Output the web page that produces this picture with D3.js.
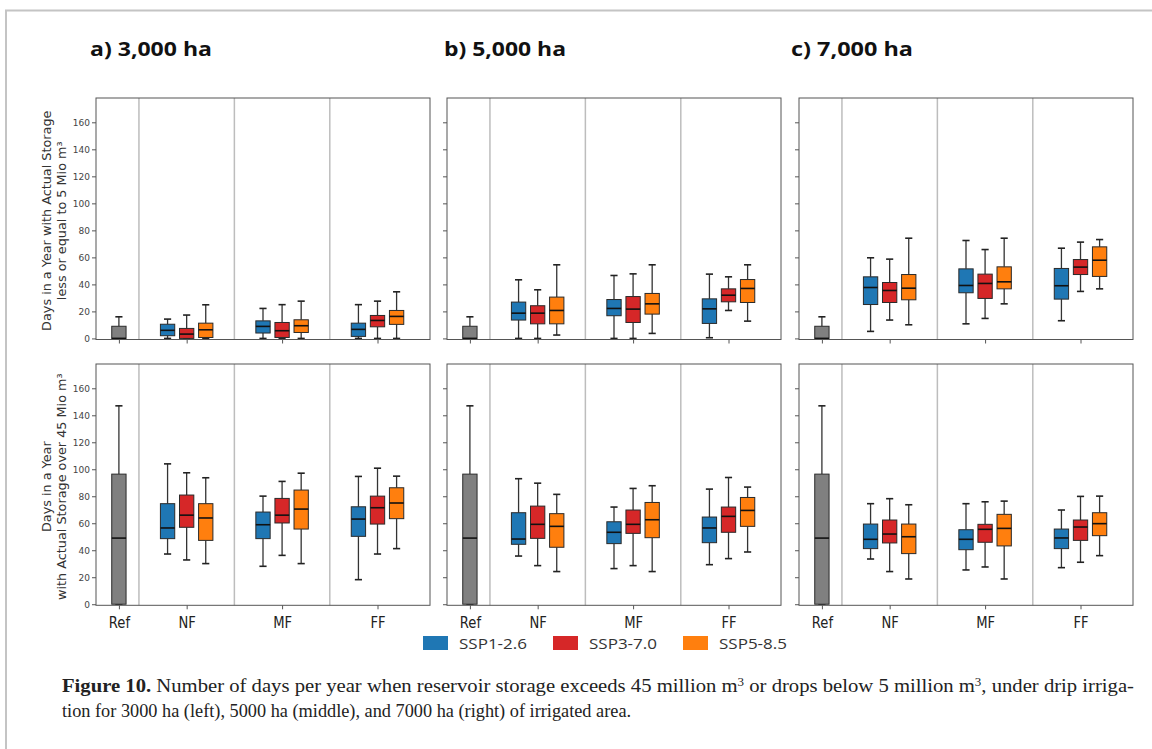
<!DOCTYPE html>
<html>
<head>
<meta charset="utf-8">
<script src="https://cdn.jsdelivr.net/npm/d3@7"></script>
<style>
  html, body { margin: 0; padding: 0; background: #fff; }
  svg { display: block; }
</style>
</head>
<body>
<svg id="chart" width="1152" height="749"></svg>
<script>
// ---------------- DATA ----------------
const categories = ["Ref", "NF", "MF", "FF"];
const scenarios = ["SSP1-2.6", "SSP3-7.0", "SSP5-8.5"];
const areaTitles = ["a) 3,000 ha", "b) 5,000 ha", "c) 7,000 ha"];
const yTicks = [0, 20, 40, 60, 80, 100, 120, 140, 160];
const rowLabels = [
  ["Days in a Year with Actual Storage", "less or equal to 5 Mio m\u00b3"],
  ["Days in a Year", "with Actual Storage over 45 Mio m\u00b3"]
];
// box stats: [whiskerLow, q1, median, q3, whiskerHigh]
const refBelow5 = [0, 0, 0, 9, 16];
const refOver45 = [0, 0, 49, 96.4, 147];

// rows: NF, MF, FF ; each: SSP1-2.6, SSP3-7.0, SSP5-8.5
const below5_3000 = [
  [[0, 2, 6, 10.5, 14.3], [0, 0, 3.2, 7.4, 17.3], [0, 0.7, 6.4, 11.3, 24.9]],
  [[0, 4, 8.9, 13, 22.2], [0, 0.7, 5.7, 11.8, 25], [0, 4.4, 9.4, 13.8, 27.6]],
  [[0, 1.5, 6.7, 11.3, 25], [0, 8.6, 13.3, 17, 27.6], [0, 10.4, 16.3, 20.7, 34.5]]
];
const below5_5000 = [
  [[0, 13.6, 18.7, 26.9, 43.4], [0, 10.8, 18.7, 24.2, 36], [2.5, 10.8, 20.7, 30.6, 54.5]],
  [[0, 16.8, 22.2, 28.8, 46.6], [0, 11.8, 21.7, 31, 47.8], [3.7, 18, 25.6, 33.3, 54.5]],
  [[0.5, 11.1, 21.9, 29.3, 47.6], [20.7, 27.1, 32, 36.7, 45.6], [12.8, 26.6, 37, 43.6, 54.5]]
];
const below5_7000 = [
  [[5.2, 25.1, 37.7, 45.6, 59.7], [13.6, 26.6, 35.5, 41.4, 58.7], [10.1, 28.6, 37.2, 47.3, 74.2]],
  [[10.8, 33.8, 39.2, 51.5, 72.5], [14.8, 29.6, 40.7, 47.6, 65.8], [25.6, 36.7, 41.9, 53, 74.2]],
  [[13.1, 29.1, 39, 51.8, 66.8], [34.8, 47.3, 52.8, 58.4, 71.3], [36.7, 45.9, 57.9, 67.8, 73.2]]
];
const over45_3000 = [
  [[37.2, 48.6, 56.5, 74.5, 104], [32.8, 57, 66, 80.9, 97.4], [30.1, 47.3, 63.9, 74.5, 93.7]],
  [[28.1, 48.6, 58.9, 68.3, 80.1], [36.2, 60.2, 66, 78.4, 91], [30.1, 55.7, 70.5, 84.6, 97.1]],
  [[18.2, 50.3, 63.1, 72.2, 94.7], [37.2, 59.4, 71.5, 80.1, 100.8], [41.2, 63.4, 75, 86.3, 94.9]]
];
const over45_5000 = [
  [[35.7, 44.4, 48.3, 67.8, 93], [28.6, 48.8, 59.2, 72.7, 89.7], [24.2, 42.2, 57.7, 67.1, 81.4]],
  [[26.4, 44.9, 53.3, 61.1, 72], [28.6, 52.5, 59.2, 69.8, 85.8], [24.2, 49.3, 62.6, 75.4, 87.8]],
  [[29.3, 45.6, 56.5, 64.6, 85.3], [33.8, 53.3, 65.1, 72, 93.9], [38.7, 57.7, 69.5, 79.1, 86.8]]
];
const over45_7000 = [
  [[33.5, 41.2, 48.1, 59.4, 74.5], [24.2, 45.4, 52, 62.4, 78.2], [18.7, 37.5, 50, 59.4, 73.7]],
  [[25.4, 40.4, 48.1, 55.2, 74.5], [27.6, 45.9, 55.5, 59.2, 75.9], [18.7, 43.2, 56.2, 66.6, 76.4]],
  [[27.1, 41.2, 49.1, 55.7, 69.8], [31.1, 47.3, 57.2, 62.4, 79.9], [36, 50.8, 59.7, 67.8, 80.1]]
];

// ---------------- LAYOUT / STYLE ----------------
const colors = { "SSP1-2.6": "#1f77b4", "SSP3-7.0": "#d62728", "SSP5-8.5": "#ff7f0e", "Ref": "#808080" };
const panelLefts = [96, 447, 799];
const panelW = 334;
const rows = [{ top: 98, bottom: 339.5 }, { top: 364, bottom: 605.3 }];
// category positions (axis units; domain 0..3.5)
const catPos = { Ref: 0.24, NF: 0.95, MF: 1.95, FF: 2.95 };
const dividers = [0.45, 1.45, 2.45];
const offsets = [-0.2, 0, 0.2];
const boxW = 0.15;

const svg = d3.select("#chart");

// outer frame
svg.append("line").attr("x1", 5).attr("x2", 1152).attr("y1", 10.5).attr("y2", 10.5)
  .attr("stroke", "#c4c4c4").attr("stroke-width", 2);
svg.append("line").attr("x1", 6).attr("x2", 6).attr("y1", 10).attr("y2", 749)
  .attr("stroke", "#c4c4c4").attr("stroke-width", 2);

const dataGrid = [
  [below5_3000, below5_5000, below5_7000],
  [over45_3000, over45_5000, over45_7000]
];
const refData = [refBelow5, refOver45];

function drawBox(g, x, y, stats, color, halfW, capHalf) {
  const [lo, q1, med, q3, hi] = stats;
  g.append("line").attr("x1", x).attr("x2", x).attr("y1", y(q3)).attr("y2", y(hi))
    .attr("stroke", "#333").attr("stroke-width", 1.3);
  g.append("line").attr("x1", x).attr("x2", x).attr("y1", y(q1)).attr("y2", y(lo))
    .attr("stroke", "#333").attr("stroke-width", 1.3);
  g.append("line").attr("x1", x - capHalf).attr("x2", x + capHalf).attr("y1", y(hi)).attr("y2", y(hi))
    .attr("stroke", "#222").attr("stroke-width", 1.6);
  g.append("line").attr("x1", x - capHalf).attr("x2", x + capHalf).attr("y1", y(lo)).attr("y2", y(lo))
    .attr("stroke", "#222").attr("stroke-width", 1.6);
  g.append("rect").attr("x", x - halfW).attr("y", y(q3)).attr("width", 2 * halfW)
    .attr("height", Math.max(0, y(q1) - y(q3)))
    .attr("fill", color).attr("stroke", "#2a2a2a").attr("stroke-width", 1);
  g.append("line").attr("x1", x - halfW).attr("x2", x + halfW).attr("y1", y(med)).attr("y2", y(med))
    .attr("stroke", "#111").attr("stroke-width", 1.6);
}

rows.forEach((row, ri) => {
  panelLefts.forEach((left, ci) => {
    const x = d3.scaleLinear().domain([0, 3.5]).range([left, left + panelW]);
    const y = d3.scaleLinear().domain([-0.8, 178]).range([row.bottom, row.top]);
    const g = svg.append("g");

    dividers.forEach(d => {
      g.append("line").attr("x1", x(d)).attr("x2", x(d)).attr("y1", row.top).attr("y2", row.bottom)
        .attr("stroke", "#bdbdbd").attr("stroke-width", 1.5);
    });

    const halfW = (x(boxW) - x(0)) / 2;
    const capHalf = halfW * 0.5;

    drawBox(g, x(catPos.Ref), y, refData[ri], colors.Ref, halfW, capHalf);
    const set = dataGrid[ri][ci];
    categories.slice(1).forEach((cat, k) => {
      scenarios.forEach((sc, s) => {
        drawBox(g, x(catPos[cat] + offsets[s]), y, set[k][s], colors[sc], halfW, capHalf);
      });
    });

    const yAxis = d3.axisLeft(y).tickValues(yTicks).tickSize(4).tickPadding(2)
      .tickFormat(ci === 0 ? d3.format("d") : () => "");
    const ya = g.append("g").attr("transform", `translate(${left},0)`).call(yAxis);
    ya.select(".domain").remove();
    ya.selectAll(".tick line").attr("stroke", "#555");
    ya.selectAll(".tick text").attr("fill", "#444").style("font-family", "DejaVu Sans")
      .style("font-size", "9px");

    const xAxis = d3.axisBottom(x).tickValues(categories.map(c => catPos[c])).tickSize(4).tickPadding(4)
      .tickFormat((d, i) => ri === 1 ? categories[i] : "");
    const xa = g.append("g").attr("transform", `translate(0,${row.bottom})`).call(xAxis);
    xa.select(".domain").remove();
    xa.selectAll(".tick line").attr("stroke", "#555");
    xa.selectAll(".tick text").attr("fill", "#222").style("font-family", "DejaVu Sans")
      .style("font-size", "16px").attr("dy", "0.9em")
      .each(function () {
        const w = this.getComputedTextLength();
        if (w > 0) d3.select(this).attr("textLength", w * 0.82).attr("lengthAdjust", "spacingAndGlyphs");
      });

    g.append("rect").attr("x", left).attr("y", row.top).attr("width", panelW)
      .attr("height", row.bottom - row.top).attr("fill", "none")
      .attr("stroke", "#555").attr("stroke-width", 1);

    if (ci === 0) {
      const cy = (row.top + row.bottom) / 2 + 2;
      rowLabels[ri].forEach((t, li) => {
        svg.append("text")
          .attr("transform", `translate(${50.5 + li * 15.5},${cy}) rotate(-90)`)
          .attr("text-anchor", "middle")
          .style("font-family", "DejaVu Sans").style("font-size", "12.8px")
          .attr("fill", "#333").text(t);
      });
    }
  });
});

// panel titles
const titleX = [90, 444, 791];
areaTitles.forEach((t, i) => {
  svg.append("text").attr("x", titleX[i]).attr("y", 56)
    .style("font-family", "Open Sans").style("font-weight", "bold").style("font-size", "20px")
    .attr("fill", "#111").attr("textLength", 122).attr("lengthAdjust", "spacingAndGlyphs").text(t);
});

// legend
const legX = [423, 553, 683];
scenarios.forEach((s, i) => {
  svg.append("rect").attr("x", legX[i]).attr("y", 636).attr("width", 25).attr("height", 14)
    .attr("fill", colors[s]);
  svg.append("text").attr("x", legX[i] + 36).attr("y", 648.5)
    .style("font-family", "Open Sans").style("font-size", "14px").attr("fill", "#333")
    .attr("textLength", 68).attr("lengthAdjust", "spacingAndGlyphs").text(s);
});

// caption
const cap1 = svg.append("text").attr("x", 62).attr("y", 692)
  .style("font-family", "Liberation Serif").style("font-size", "18.3px").attr("fill", "#222");
cap1.append("tspan").style("font-weight", "bold").text("Figure 10.");
cap1.append("tspan").text(" Number of days per year when reservoir storage exceeds 45 million m");
cap1.append("tspan").attr("dy", -6.5).style("font-size", "11.5px").text("3");
cap1.append("tspan").attr("dy", 6.5).text(" or drops below 5 million m");
cap1.append("tspan").attr("dy", -6.5).style("font-size", "11.5px").text("3");
cap1.append("tspan").attr("dy", 6.5).text(", under drip irriga-");
cap1.attr("textLength", 1072).attr("lengthAdjust", "spacingAndGlyphs");

svg.append("text").attr("x", 62).attr("y", 717)
  .style("font-family", "Liberation Serif").style("font-size", "18.3px").attr("fill", "#222")
  .text("tion for 3000 ha (left), 5000 ha (middle), and 7000 ha (right) of irrigated area.");
</script>
</body>
</html>
